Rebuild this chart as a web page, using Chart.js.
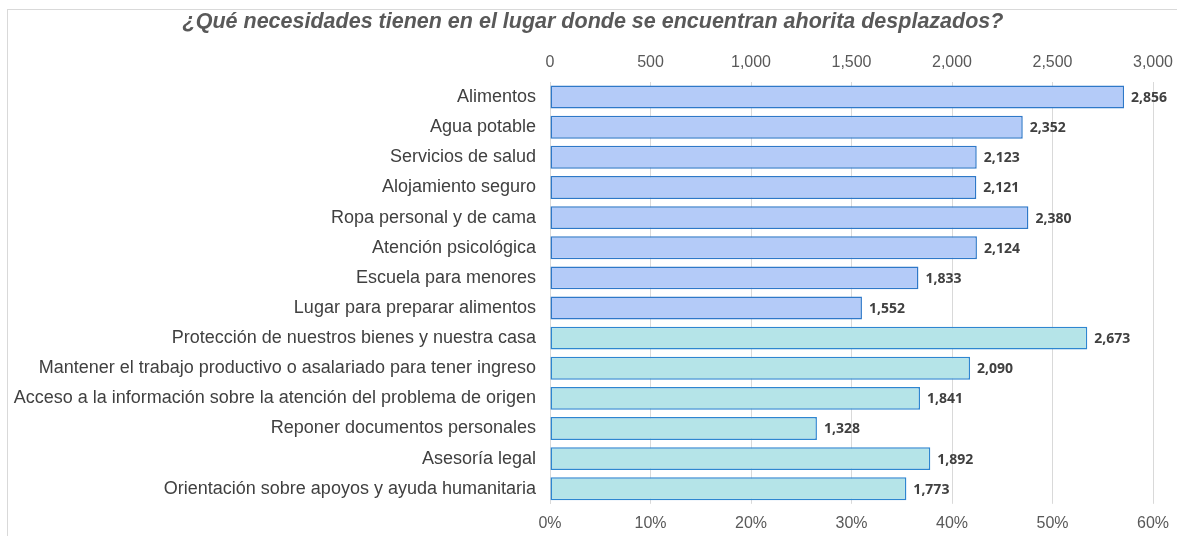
<!DOCTYPE html>
<html>
<head>
<meta charset="utf-8">
<script src="https://cdn.jsdelivr.net/npm/chart.js@4"></script>
<style>
  body { margin: 0; background: #fff; }
  #wrap { position: relative; width: 1177px; height: 536px; overflow: hidden; }
  #frame { position: absolute; left: 7px; top: 9px; width: 1300px; height: 700px; border-left: 1px solid #d9d9d9; border-top: 1px solid #d9d9d9; }
  canvas { position: absolute; left: 0; top: 0; }
</style>
</head>
<body>
<div id="wrap">
  <div id="frame"></div>
  <canvas id="needsChart" width="1177" height="536"></canvas>
</div>
<script>
// datos de la grafica
const categories = [
    'Alimentos',
    'Agua potable',
    'Servicios de salud',
    'Alojamiento seguro',
    'Ropa personal y de cama',
    'Atención psicológica',
    'Escuela para menores',
    'Lugar para preparar alimentos',
    'Protección de nuestros bienes y nuestra casa',
    'Mantener el trabajo productivo o asalariado para tener ingreso',
    'Acceso a la información sobre la atención del problema de origen',
    'Reponer documentos personales',
    'Asesoría legal',
    'Orientación sobre apoyos y ayuda humanitaria'
];
const counts = [2856, 2352, 2123, 2121, 2380, 2124, 1833, 1552, 2673, 2090, 1841, 1328, 1892, 1773];
// grupo 0 = necesidades basicas, grupo 1 = proteccion / servicios
const groups = [0, 0, 0, 0, 0, 0, 0, 0, 1, 1, 1, 1, 1, 1];
const countTicks = [0, 500, 1000, 1500, 2000, 2500, 3000];
const percentTicks = [0, 10, 20, 30, 40, 50, 60];

const groupFill = ['#b4cbf8', '#b5e4e8'];
const groupBorder = ['#2e78c8', '#2e86d0'];

// etiquetas al final de cada barra
const barLabels = {
    id: 'barLabels',
    afterLayout(chart) {
        // el titulo va un poco a la derecha del centro
        chart.titleBlock.left += 25;
    },
    afterDatasetsDraw(chart) {
        const ctx = chart.ctx;
        const meta = chart.getDatasetMeta(0);
        ctx.save();
        ctx.font = 'bold 14px "Open Sans"';
        ctx.fillStyle = '#404040';
        ctx.textBaseline = 'middle';
        meta.data.forEach((bar, i) => {
            ctx.fillText(counts[i].toLocaleString('en-US'), bar.x + 7, bar.y + 1);
        });
        ctx.restore();
    }
};

// quitar el espacio extra que chart.js deja para la ultima etiqueta
function noSidePadding(scale) {
    scale.paddingLeft = 0;
    scale.paddingRight = 0;
}

const ctx = document.getElementById('needsChart').getContext('2d');
new Chart(ctx, {
    type: 'bar',
    data: {
        labels: categories,
        datasets: [{
            data: counts,
            backgroundColor: groups.map(g => groupFill[g]),
            borderColor: groups.map(g => groupBorder[g]),
            borderWidth: 1.5,
            borderSkipped: false,
            categoryPercentage: 1,
            barPercentage: 0.76
        }]
    },
    options: {
        indexAxis: 'y',
        responsive: false,
        animation: false,
        layout: {
            padding: { left: 8, right: 24, top: 0, bottom: -7 }
        },
        scales: {
            x: {
                position: 'top',
                min: 0,
                max: 3000,
                afterBuildTicks: scale => {
                    scale.ticks = countTicks.map(v => ({ value: v }));
                },
                afterFit: noSidePadding,
                ticks: {
                    color: '#595959',
                    font: { family: 'Liberation Sans', size: 16 },
                    padding: 10,
                    callback: v => v.toLocaleString('en-US')
                },
                grid: { color: '#d9d9d9', drawTicks: false },
                border: { display: false }
            },
            x2: {
                type: 'linear',
                position: 'bottom',
                min: 0,
                max: 60,
                afterBuildTicks: scale => {
                    scale.ticks = percentTicks.map(v => ({ value: v }));
                },
                afterFit: noSidePadding,
                ticks: {
                    color: '#595959',
                    font: { family: 'Liberation Sans', size: 16 },
                    padding: 10,
                    callback: v => v + '%'
                },
                grid: { display: false, drawTicks: false },
                border: { display: false }
            },
            y: {
                afterFit: scale => { scale.width = 542; },
                ticks: {
                    color: '#404040',
                    font: { family: 'Liberation Sans', size: 18 },
                    padding: 14
                },
                grid: { display: false, drawTicks: false },
                border: { color: '#d9d9d9' }
            }
        },
        plugins: {
            legend: { display: false },
            tooltip: { enabled: false },
            title: {
                display: true,
                text: '¿Qué necesidades tienen en el lugar donde se encuentran ahorita desplazados?',
                color: '#595959',
                font: { family: 'Liberation Sans', size: 21.5, style: 'italic', weight: 'bold' },
                padding: { top: 9, bottom: 8 }
            }
        }
    },
    plugins: [barLabels]
});
</script>
</body>
</html>
